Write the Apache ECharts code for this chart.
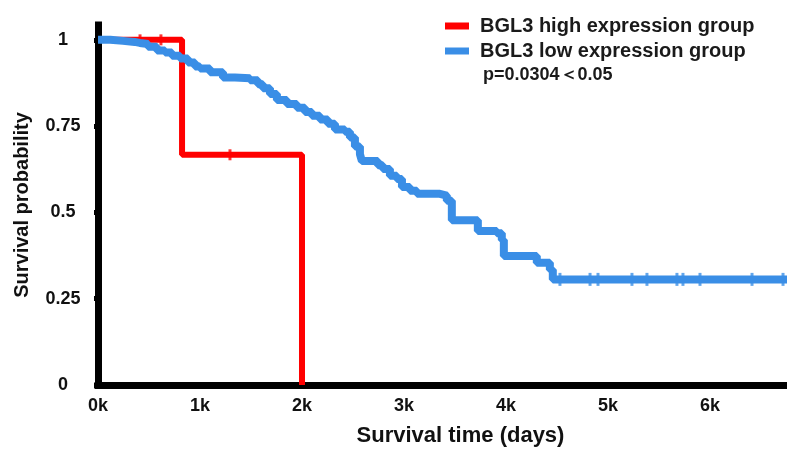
<!DOCTYPE html>
<html>
<head>
<meta charset="utf-8">
<script src="https://cdn.jsdelivr.net/npm/echarts@6/dist/echarts.min.js"></script>
<style>
  html, body { margin: 0; padding: 0; background: #fff; }
  #km { width: 787px; height: 452px; }
</style>
</head>
<body>
<div id="km"></div>
<script>
// high expression group (KM steps)
const highTime = [0, 824, 2000]
const highSurv = [1, 0.667, 0]
const highCensorTime = [412, 617, 1294]
const highCensorSurv = [1, 1, 0.667]

// low expression group (KM steps)
const lowTime = [0, 120, 245, 360, 410, 490, 578, 657, 725, 804, 882, 951, 1000, 1098, 1225, 1343, 1490, 1568, 1617, 1686, 1754, 1852, 1950, 2029, 2097, 2176, 2254, 2323, 2421, 2470, 2519, 2568, 2587, 2744, 2793, 2862, 2930, 2980, 3058, 3127, 3352, 3420, 3469, 3724, 3910, 3959, 3979, 4302, 4430, 4459, 6900]
const lowSurv = [1, 0.997, 0.994, 0.991, 0.988, 0.98, 0.969, 0.963, 0.954, 0.946, 0.934, 0.923, 0.917, 0.906, 0.891, 0.889, 0.883, 0.871, 0.86, 0.843, 0.826, 0.814, 0.803, 0.791, 0.78, 0.769, 0.757, 0.74, 0.734, 0.717, 0.691, 0.669, 0.649, 0.637, 0.626, 0.606, 0.597, 0.574, 0.563, 0.554, 0.549, 0.534, 0.477, 0.446, 0.44, 0.42, 0.374, 0.354, 0.334, 0.306, 0.306]
const lowCensorTime = [4529, 4824, 4902, 5235, 5382, 5676, 5735, 5902, 6412, 6716]
const lowCensorSurv = [0.306, 0.306, 0.306, 0.306, 0.306, 0.306, 0.306, 0.306, 0.306, 0.306]

// ticks
const xTickValues = [0, 1000, 2000, 3000, 4000, 5000, 6000]
const xTickLabels = ['0k', '1k', '2k', '3k', '4k', '5k', '6k']
const yTickValues = [0, 0.25, 0.5, 0.75, 1]
const yTickLabels = ['0', '0.25', '0.5', '0.75', '1']

const RED = '#ff0000'
const BLUE = '#3a8ee6'
const FONT = '"Liberation Sans", Arial, sans-serif'

const zip = (a, b) => a.map((v, i) => [v, b[i]])

const chart = echarts.init(document.getElementById('km'), null, { renderer: 'canvas' })
chart.setOption({
  animation: false,
  grid: { left: 98, right: 0, top: 25, bottom: 61 },
  legend: {
    orient: 'vertical',
    left: 440,
    top: 11,
    itemWidth: 24,
    itemHeight: 7,
    itemGap: 5,
    data: [
      { name: 'BGL3 high expression group', icon: 'rect' },
      { name: 'BGL3 low expression group', icon: 'rect' }
    ],
    textStyle: { fontFamily: FONT, fontWeight: 'bold', fontSize: 20, color: '#1a1a1a', lineHeight: 20, padding: [0, 0, 0, 6] }
  },
  graphic: [{
    type: 'text',
    left: 483,
    top: 66,
    style: { text: 'p=0.0304＜0.05', font: 'bold 18px ' + FONT, fill: '#1a1a1a' }
  }],
  xAxis: {
    type: 'value',
    min: 0,
    max: 6755,
    name: 'Survival time (days)',
    nameLocation: 'middle',
    nameGap: 40,
    nameTextStyle: { fontFamily: FONT, fontWeight: 'bold', fontSize: 22, color: '#111', padding: [0, 0, 0, 36] },
    splitLine: { show: false },
    axisLine: { lineStyle: { color: '#000', width: 7, cap: 'square' } },
    axisTick: { customValues: xTickValues, length: 4, lineStyle: { color: '#000', width: 5 } },
    axisLabel: {
      customValues: xTickValues,
      margin: 12,
      fontFamily: FONT, fontWeight: 'bold', fontSize: 18, color: '#111',
      formatter: v => xTickLabels[xTickValues.indexOf(v)]
    }
  },
  yAxis: {
    type: 'value',
    min: 0,
    max: 1.043,
    name: 'Survival probability',
    nameLocation: 'middle',
    nameGap: 66,
    nameTextStyle: { fontFamily: FONT, fontWeight: 'bold', fontSize: 20, color: '#111' },
    splitLine: { show: false },
    axisLine: { lineStyle: { color: '#000', width: 7, cap: 'square' } },
    axisTick: { customValues: yTickValues, length: 4, lineStyle: { color: '#000', width: 5 } },
    axisLabel: {
      customValues: yTickValues,
      margin: 35,
      align: 'center',
      fontFamily: FONT, fontWeight: 'bold', fontSize: 18, color: '#111',
      formatter: v => yTickLabels[yTickValues.indexOf(v)]
    }
  },
  series: [
    {
      name: 'BGL3 high expression group',
      type: 'line',
      step: 'end',
      showSymbol: false,
      color: RED,
      lineStyle: { color: RED, width: 6 },
      data: zip(highTime, highSurv)
    },
    {
      name: 'high censored',
      type: 'scatter',
      symbol: 'rect',
      symbolSize: [3, 11],
      itemStyle: { color: RED },
      data: zip(highCensorTime, highCensorSurv)
    },
    {
      name: 'BGL3 low expression group',
      type: 'line',
      step: 'end',
      showSymbol: false,
      color: BLUE,
      lineStyle: { color: BLUE, width: 8 },
      data: zip(lowTime, lowSurv)
    },
    {
      name: 'low censored',
      type: 'scatter',
      symbol: 'rect',
      symbolSize: [3, 13],
      itemStyle: { color: BLUE },
      data: zip(lowCensorTime, lowCensorSurv)
    }
  ]
})
</script>
</body>
</html>
